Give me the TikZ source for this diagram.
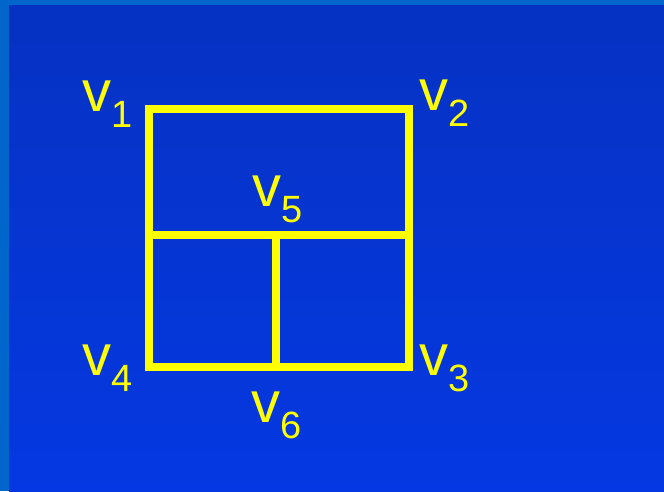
\documentclass[tikz,border=0pt]{standalone}
\usepackage{fontspec}
\setmainfont{Liberation Sans}
\definecolor{frameblue}{HTML}{0066CC}
\definecolor{bgtop}{HTML}{0632C2}
\definecolor{bgbot}{HTML}{0538E2}
\definecolor{edgeyellow}{HTML}{FFFF00}
\newcommand{\vlab}[1]{{\fontsize{58}{58}\selectfont v}\kern0.5pt\raisebox{-16pt}{\fontsize{38}{38}\selectfont #1}}
\begin{document}
\begin{tikzpicture}[x=1pt,y=-1pt,
  edge/.style={draw=edgeyellow,line width=8.5pt,line join=miter},
  vlabel/.style={text=edgeyellow,inner sep=0pt,anchor=base west}]
\useasboundingbox (0,0) rectangle (664,491);
\fill[frameblue] (0,0) rectangle (664,491);
\shade[top color=bgtop,bottom color=bgbot] (9,5) rectangle (664,491);
\coordinate (c1) at (149,109);
\coordinate (c2) at (409,109);
\coordinate (c3) at (409,367);
\coordinate (c4) at (149,367);
\coordinate (m1) at (149,235);
\coordinate (m2) at (409,235);
\coordinate (m5) at (276,235);
\coordinate (m6) at (276,363);
\draw[edge] (c1) -- (c2) -- (c3) -- (c4) -- cycle;
\draw[edge] (m1) -- (m2);
\draw[edge,line cap=butt] (m5) -- (m6);
\node[vlabel] (v1) at (82,111) {\vlab{1}};
\node[vlabel] (v2) at (419,110) {\vlab{2}};
\node[vlabel] (v3) at (419,375) {\vlab{3}};
\node[vlabel] (v4) at (82,375) {\vlab{4}};
\node[vlabel] (v5) at (252,206) {\vlab{5}};
\node[vlabel] (v6) at (251,422) {\vlab{6}};
\end{tikzpicture}
\end{document}
